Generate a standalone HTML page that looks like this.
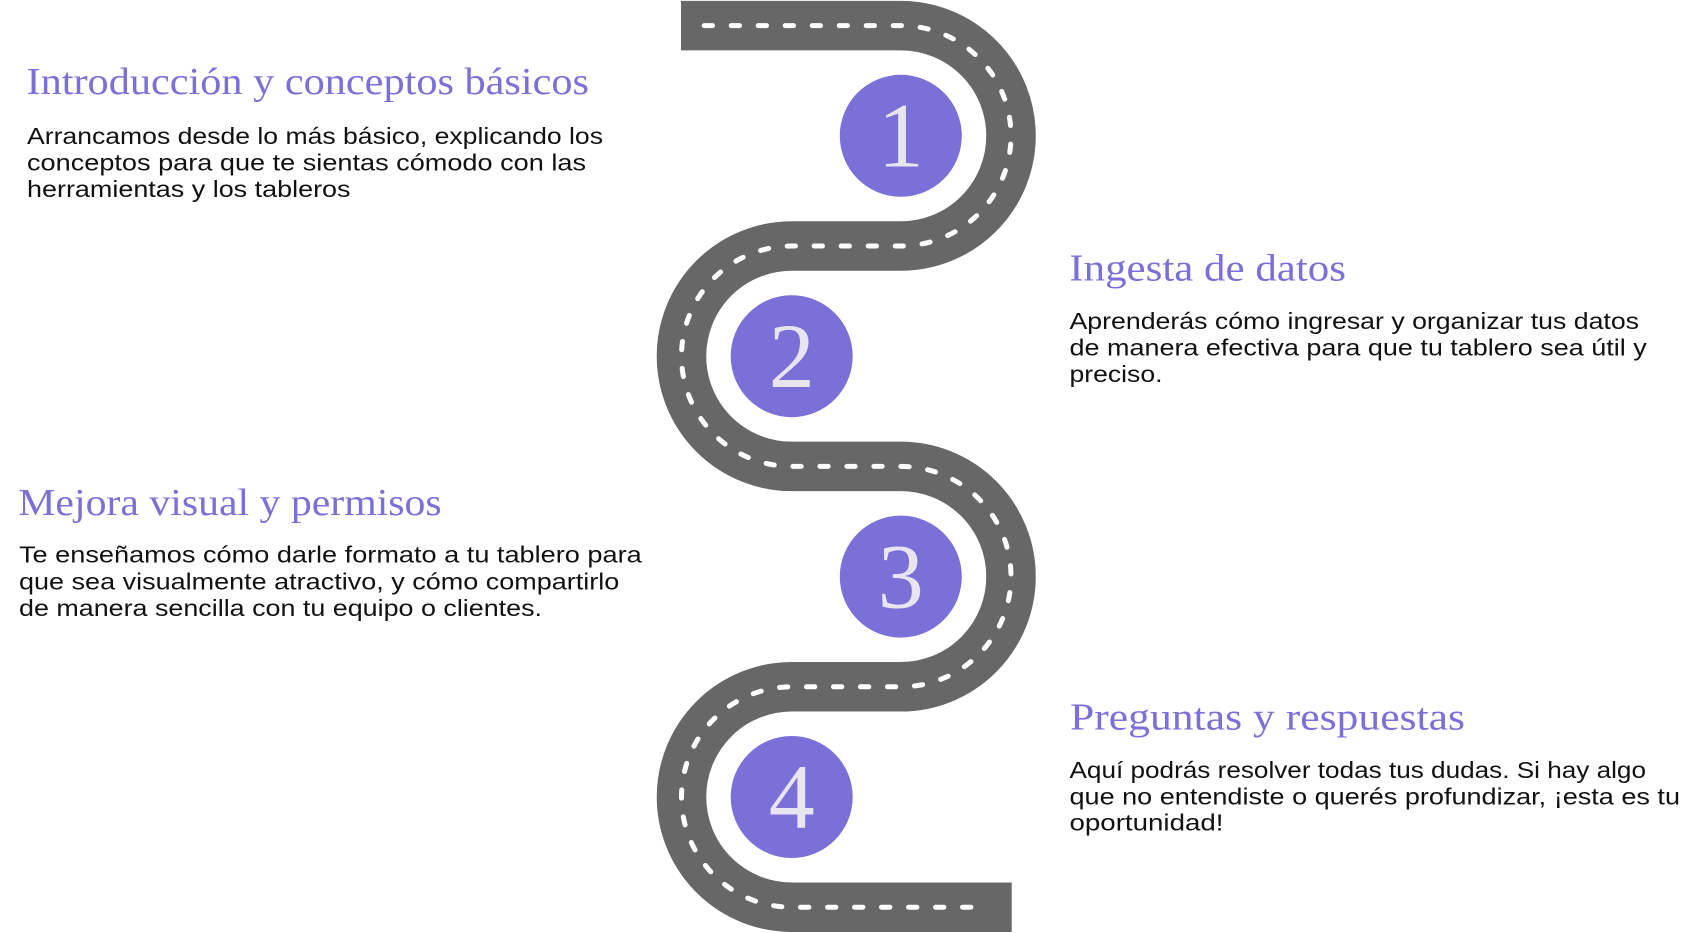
<!DOCTYPE html>
<html>
<head>
<meta charset="utf-8">
<style>
  html, body { margin: 0; padding: 0; background: #ffffff; }
  body { width: 1705px; height: 933px; overflow: hidden; }
  svg { display: block; }
  .t { font-family: "Liberation Serif", "DejaVu Serif", serif; font-size: 38px; fill: #7B6FD8; }
  .b { font-family: "Liberation Sans", "DejaVu Sans", sans-serif; font-size: 23px; fill: #111111; }
  .n { font-family: "Liberation Serif", "DejaVu Serif", serif; font-size: 92px; fill: #E7E5EF; }
</style>
</head>
<body>
<svg width="1705" height="933" viewBox="0 0 1705 933" xmlns="http://www.w3.org/2000/svg">
  <rect x="0" y="0" width="1705" height="933" fill="#ffffff"/>

  <!-- Road -->
  <path d="M 681 25.6 L 900.8 25.6 A 110.2 110.2 0 0 1 900.8 246 L 791.7 246 A 110.2 110.2 0 0 0 791.7 466.4 L 900.8 466.4 A 110.2 110.2 0 0 1 900.8 686.8 L 791.7 686.8 A 110.2 110.2 0 0 0 791.7 907.2 L 1011.7 907.2"
        fill="none" stroke="#676767" stroke-width="49.5" stroke-linecap="butt"/>
  <!-- Center dashes -->
  <path d="M 704.2 25.6 L 900.8 25.6 A 110.2 110.2 0 0 1 900.8 246 L 791.7 246 A 110.2 110.2 0 0 0 791.7 466.4 L 900.8 466.4 A 110.2 110.2 0 0 1 900.8 686.8 L 791.7 686.8 A 110.2 110.2 0 0 0 791.7 907.2 L 989 907.2"
        fill="none" stroke="#ffffff" stroke-width="5" stroke-linecap="round" stroke-dasharray="8.3 18.7"/>

  <!-- Circles -->
  <circle cx="900.8" cy="135.8" r="61" fill="#7B6FD8"/>
  <circle cx="791.7" cy="356.2" r="61" fill="#7B6FD8"/>
  <circle cx="900.8" cy="576.6" r="61" fill="#7B6FD8"/>
  <circle cx="791.7" cy="797" r="61" fill="#7B6FD8"/>

  <text class="n" x="900.8" y="166.5" text-anchor="middle">1</text>
  <text class="n" x="791.7" y="387" text-anchor="middle">2</text>
  <text class="n" x="900.8" y="607.5" text-anchor="middle">3</text>
  <text class="n" x="791.7" y="828" text-anchor="middle">4</text>

  <!-- Block 1 (left) -->
  <text class="t" x="26.5" y="94" textLength="562.5" lengthAdjust="spacingAndGlyphs">Introducción y conceptos básicos</text>
  <text class="b" x="27" y="144" textLength="576" lengthAdjust="spacingAndGlyphs">Arrancamos desde lo más básico, explicando los</text>
  <text class="b" x="27" y="170.5" textLength="559" lengthAdjust="spacingAndGlyphs">conceptos para que te sientas cómodo con las</text>
  <text class="b" x="27" y="197" textLength="323.5" lengthAdjust="spacingAndGlyphs">herramientas y los tableros</text>

  <!-- Block 2 (right) -->
  <text class="t" x="1069.3" y="280.7" textLength="276.7" lengthAdjust="spacingAndGlyphs">Ingesta de datos</text>
  <text class="b" x="1069.5" y="329" textLength="569.5" lengthAdjust="spacingAndGlyphs">Aprenderás cómo ingresar y organizar tus datos</text>
  <text class="b" x="1069.5" y="355.5" textLength="577.2" lengthAdjust="spacingAndGlyphs">de manera efectiva para que tu tablero sea útil y</text>
  <text class="b" x="1069.5" y="382" textLength="93" lengthAdjust="spacingAndGlyphs">preciso.</text>

  <!-- Block 3 (left) -->
  <text class="t" x="18.3" y="515" textLength="423.4" lengthAdjust="spacingAndGlyphs">Mejora visual y permisos</text>
  <text class="b" x="19" y="562.7" textLength="622.7" lengthAdjust="spacingAndGlyphs">Te enseñamos cómo darle formato a tu tablero para</text>
  <text class="b" x="19" y="589.3" textLength="600.3" lengthAdjust="spacingAndGlyphs">que sea visualmente atractivo, y cómo compartirlo</text>
  <text class="b" x="19" y="616" textLength="523" lengthAdjust="spacingAndGlyphs">de manera sencilla con tu equipo o clientes.</text>

  <!-- Block 4 (right) -->
  <text class="t" x="1070" y="729.3" textLength="395" lengthAdjust="spacingAndGlyphs">Preguntas y respuestas</text>
  <text class="b" x="1069.5" y="778" textLength="576.5" lengthAdjust="spacingAndGlyphs">Aquí podrás resolver todas tus dudas. Si hay algo</text>
  <text class="b" x="1069.5" y="804.3" textLength="610.5" lengthAdjust="spacingAndGlyphs">que no entendiste o querés profundizar, ¡esta es tu</text>
  <text class="b" x="1069.5" y="830.7" textLength="154" lengthAdjust="spacingAndGlyphs">oportunidad!</text>
</svg>
</body>
</html>
